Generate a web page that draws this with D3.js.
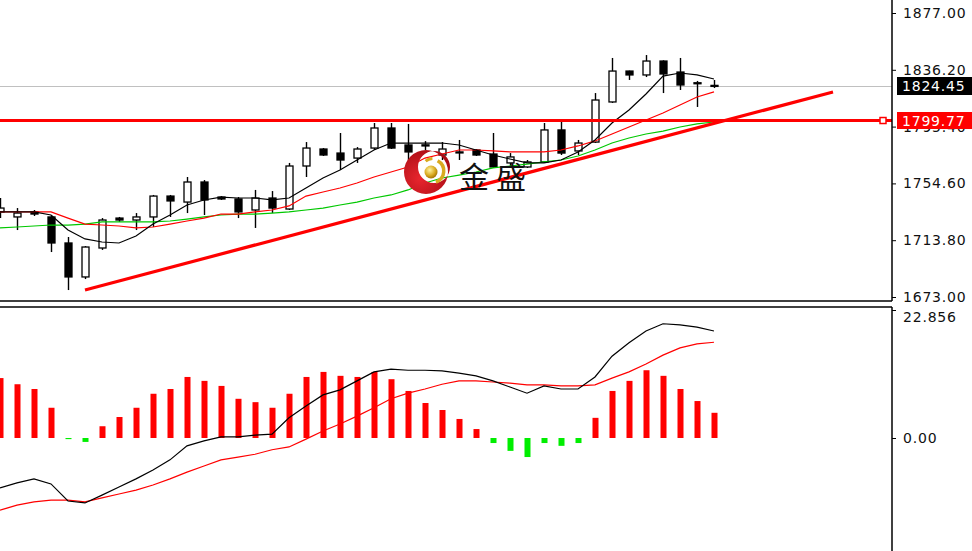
<!DOCTYPE html>
<html><head><meta charset="utf-8">
<script src="https://cdn.jsdelivr.net/npm/d3@7"></script>
<style>body{margin:0;background:#fff;overflow:hidden}svg{display:block}</style>
</head><body><svg id="c" width="972" height="551"></svg>
<script>
// ---------- data ----------
const opens  = [1734.1,1730.5,1734.1,1730.5,1711.8,1687.4,1708.2,1729.7,1728.3,1730.5,1745.5,1741.2,1755.6,1744.8,1743.4,1735.5,1744.1,1736.2,1767.1,1779.3,1776.4,1772.8,1780.0,1794.4,1782.2,1781.5,1775.0,1777.2,1778.6,1775.7,1769.3,1766.4,1770.0,1793.0,1777.9,1784.3,1813.1,1835.3,1832.5,1842.5,1834.6,1826.7,1825.0];
const highs  = [1744.1,1736.9,1735.5,1731.9,1716.1,1709.6,1729.7,1730.5,1733.3,1746.3,1746.3,1759.2,1757.0,1745.5,1744.8,1749.9,1749.1,1769.3,1784.3,1780.0,1790.8,1780.7,1798.0,1798.0,1797.3,1785.0,1784.3,1785.8,1779.3,1790.8,1776.4,1771.4,1798.0,1799.4,1785.8,1819.5,1844.7,1835.6,1846.8,1843.0,1844.7,1828.2,1828.9];
const lows   = [1729.7,1721.1,1731.2,1705.3,1678.0,1685.9,1706.8,1726.9,1721.1,1723.3,1730.5,1733.3,1731.9,1742.7,1729.7,1722.6,1733.3,1735.5,1759.2,1774.3,1764.2,1769.3,1778.6,1779.3,1771.4,1778.6,1771.4,1771.4,1774.3,1765.7,1765.7,1765.7,1769.3,1775.0,1775.0,1783.6,1812.4,1828.9,1831.0,1819.5,1821.7,1809.5,1823.1];
const closes = [1736.9,1733.3,1732.6,1711.8,1687.4,1708.9,1728.3,1728.3,1730.5,1745.5,1742.0,1755.6,1742.7,1743.4,1734.1,1744.1,1736.9,1767.1,1780.0,1775.0,1771.4,1779.3,1794.4,1780.0,1777.2,1782.3,1779.3,1777.0,1775.0,1766.4,1773.6,1770.0,1793.0,1776.4,1783.6,1814.5,1835.3,1832.5,1842.5,1833.2,1825.3,1826.9,1824.45];
const maFast = [1734.1,1734.1,1734.1,1731.9,1721.1,1714.7,1712.5,1711.8,1716.8,1725.4,1731.9,1739.1,1742.7,1744.8,1744.1,1744.1,1742.7,1744.1,1751.3,1758.5,1764.2,1771.4,1778.6,1783.6,1783.6,1783.6,1783.6,1782.2,1778.6,1775.0,1772.1,1769.3,1769.3,1771.4,1777.2,1785.8,1798.0,1807.3,1818.8,1831.7,1833.9,1832.5,1829.6];
const maMid  = [1734.1,1734.1,1734.1,1734.1,1729.7,1725.4,1724.7,1724.0,1722.6,1723.3,1725.4,1727.6,1729.7,1732.6,1732.6,1734.1,1735.5,1738.4,1745.5,1748.4,1751.3,1754.9,1759.2,1762.8,1766.4,1772.8,1775.7,1778.6,1778.6,1777.9,1777.2,1777.2,1777.2,1778.6,1781.5,1785.1,1790.1,1795.1,1800.1,1805.2,1810.9,1816.7,1820.3];
const maSlow = [1722.6,1723.3,1724.0,1724.7,1724.7,1725.4,1726.9,1726.9,1726.9,1726.9,1727.6,1729.0,1730.5,1731.9,1732.6,1732.6,1733.3,1734.1,1735.5,1736.9,1739.1,1741.2,1744.1,1746.3,1749.9,1754.9,1758.5,1760.6,1762.8,1765.7,1767.1,1768.5,1770.0,1771.4,1774.3,1778.6,1783.6,1787.2,1790.1,1792.2,1795.1,1797.3,1798.7];
const macdHist = [10.7,9.6,8.75,5.4,-0.2,-0.7,2.1,3.75,5.4,7.9,8.75,10.9,10.2,9.3,7.0,6.4,5.4,7.9,10.9,11.8,11.1,10.9,11.8,10.5,8.4,6.25,5.0,3.4,1.6,-0.9,-2.3,-3.4,-0.9,-1.4,-0.9,3.6,8.4,10.2,12.1,11.1,8.75,6.6,4.5];
const macdMain = [-8.9,-8.0,-7.3,-8.2,-11.25,-11.6,-10.2,-8.75,-7.3,-5.7,-3.9,-1.4,-0.5,0.2,0.2,0.5,0.7,3.6,5.7,7.7,8.6,10.2,11.8,12.3,12.1,12.1,12.0,11.6,11.1,10.2,9.1,8.0,9.3,8.75,8.75,10.9,14.6,17.0,19.1,20.4,20.2,19.8,19.1];
const macdSignal = [-12.9,-12.0,-11.4,-11.1,-11.1,-11.4,-10.7,-10.0,-9.3,-8.4,-7.3,-6.1,-5.0,-3.9,-3.4,-2.9,-2.1,-1.6,-0.2,1.25,2.5,3.9,5.4,7.0,8.0,8.75,9.6,10.2,10.2,10.0,9.8,9.5,9.5,9.3,9.3,9.5,10.7,11.8,13.2,14.8,16.1,16.8,17.1];
const priceTicks = [1877.00,1836.20,1795.40,1754.60,1713.80,1673.00];
const macdTicks = [22.856, 0];
const lastPrice = 1824.45;
const levelPrice = 1799.77;
const trendIdx = [5, 49];
const trendPrice = [1678.0, 1820.3];
const logoText = "金盛";

// ---------- layout ----------
const svg = d3.select('#c');
svg.append('rect').attr('width',972).attr('height',551).attr('fill','#fff');
const axisX = 892;
const x = d3.scaleLinear().domain([0,49]).range([0,833]);
const y = d3.scaleLinear().domain([1673,1877]).range([297,13]);
const ym = d3.scaleLinear().domain([0,22.856]).range([438,310]);
const font = "'DejaVu Sans', Verdana, sans-serif";

const defs = svg.append('defs');
defs.append('clipPath').attr('id','cpMain').append('rect').attr('x',0).attr('y',0).attr('width',axisX).attr('height',300);
defs.append('clipPath').attr('id','cpSub').append('rect').attr('x',0).attr('y',308).attr('width',axisX).attr('height',243);
const grad = defs.append('radialGradient').attr('id','gold').attr('cx','40%').attr('cy','35%').attr('r','70%');
grad.append('stop').attr('offset','0%').attr('stop-color','#fff3a0');
grad.append('stop').attr('offset','60%').attr('stop-color','#d9aa20');
grad.append('stop').attr('offset','100%').attr('stop-color','#9a6a00');
const rg = defs.append('radialGradient').attr('id','redg').attr('cx','35%').attr('cy','65%').attr('r','75%');
rg.append('stop').attr('offset','0%').attr('stop-color','#e8262e');
rg.append('stop').attr('offset','100%').attr('stop-color','#a80c14');

const main = svg.append('g').attr('clip-path','url(#cpMain)');
const sub = svg.append('g').attr('clip-path','url(#cpSub)');
const idx = d3.range(closes.length);

// last price gray line
main.append('line').attr('x1',0).attr('x2',axisX).attr('y1',Math.round(y(lastPrice))+0.5).attr('y2',Math.round(y(lastPrice))+0.5)
  .attr('stroke','#c0c0c0').attr('stroke-width',1);

// candles
const cw = 7;
const cg = main.append('g');
idx.forEach(i=>{
  const cx = Math.round(x(i))+0.5;
  cg.append('line').attr('x1',cx).attr('x2',cx).attr('y1',y(highs[i])).attr('y2',y(lows[i])).attr('stroke','#000').attr('stroke-width',1.4);
  const top = y(Math.max(opens[i],closes[i])), bot = y(Math.min(opens[i],closes[i]));
  const bull = closes[i] >= opens[i];
  const h = Math.max(bot-top, 1);
  cg.append('rect').attr('x',cx-cw/2).attr('y',top).attr('width',cw).attr('height',h)
    .attr('fill', bull ? '#fff' : '#000').attr('stroke','#000').attr('stroke-width',1.3);
});

// moving averages
const lineP = arr => d3.line().x((d,i)=>x(i)).y(d=>y(d))(arr);
main.append('path').attr('d',lineP(maSlow)).attr('fill','none').attr('stroke','#00c800').attr('stroke-width',1.2);
main.append('path').attr('d',lineP(maMid)).attr('fill','none').attr('stroke','#ff0000').attr('stroke-width',1.2);
main.append('path').attr('d',lineP(maFast)).attr('fill','none').attr('stroke','#000').attr('stroke-width',1.2);

// horizontal level
main.append('line').attr('x1',0).attr('x2',axisX).attr('y1',y(levelPrice)).attr('y2',y(levelPrice)).attr('stroke','#ff0000').attr('stroke-width',3);
main.append('rect').attr('x',880).attr('y',y(levelPrice)-3).attr('width',6).attr('height',6).attr('fill','#fff').attr('stroke','#ff0000').attr('stroke-width',1.5);

// trend line
main.append('line').attr('x1',x(trendIdx[0])).attr('y1',y(trendPrice[0])).attr('x2',x(trendIdx[1])).attr('y2',y(trendPrice[1]))
  .attr('stroke','#ff0000').attr('stroke-width',3.2);

// logo
const logo = svg.append('g');
const circ = (cx,cy,r) => `M${cx+r},${cy}A${r},${r} 0 1 0 ${cx-r},${cy}A${r},${r} 0 1 0 ${cx+r},${cy}Z`;
logo.append('path').attr('fill-rule','evenodd').attr('fill','url(#redg)')
  .attr('d', circ(426,172,22) + circ(434,167,16));
logo.append('circle').attr('cx',431).attr('cy',172).attr('r',6.5).attr('fill','url(#gold)');
logo.append('path').attr('d', d3.arc()({innerRadius:10,outerRadius:13.5,startAngle:0.5,endAngle:2.8}))
  .attr('transform','translate(432,171)').attr('fill','#d9aa20');
logo.append('path').attr('d', d3.arc()({innerRadius:10,outerRadius:13,startAngle:-0.7,endAngle:-0.05}))
  .attr('transform','translate(433,170)').attr('fill','#d9aa20');
logo.append('text').attr('x',459).attr('y',188).attr('font-family',"'Noto Sans CJK SC', sans-serif").attr('font-size',30)
  .attr('letter-spacing',7).attr('fill','#111').text(logoText);

// MACD
const bw = 6;
sub.selectAll('rect.h').data(macdHist).enter().append('rect')
  .attr('x',(d,i)=>Math.round(x(i))-bw/2+0.5).attr('width',bw)
  .attr('y',d=> d>=0 ? ym(d) : ym(0)).attr('height',d=>Math.abs(ym(d)-ym(0)))
  .attr('fill',d=> d>=0 ? '#ff0000' : '#00ee00');
const lineM = arr => d3.line().x((d,i)=>x(i)).y(d=>ym(d))(arr);
sub.append('path').attr('d',lineM(macdSignal)).attr('fill','none').attr('stroke','#ff0000').attr('stroke-width',1.2);
sub.append('path').attr('d',lineM(macdMain)).attr('fill','none').attr('stroke','#000').attr('stroke-width',1.2);

// frames
svg.append('line').attr('x1',0).attr('x2',axisX).attr('y1',301).attr('y2',301).attr('stroke','#000').attr('stroke-width',1.5);
svg.append('line').attr('x1',0).attr('x2',axisX).attr('y1',307).attr('y2',307).attr('stroke','#000').attr('stroke-width',1.5);
svg.append('line').attr('x1',axisX).attr('x2',axisX).attr('y1',0).attr('y2',301).attr('stroke','#000').attr('stroke-width',1.5);
svg.append('line').attr('x1',axisX).attr('x2',axisX).attr('y1',307).attr('y2',551).attr('stroke','#000').attr('stroke-width',1.5);

// axes
const ax = svg.append('g').attr('transform',`translate(${axisX},0)`)
  .call(d3.axisRight(y).tickValues(priceTicks).tickSize(4).tickPadding(7).tickFormat(d3.format('.2f')));
const am = svg.append('g').attr('transform',`translate(${axisX},0)`)
  .call(d3.axisRight(ym).tickValues(macdTicks).tickSize(4).tickPadding(7).tickFormat(d=> d===0 ? '0.00' : String(d)));
[ax,am].forEach(a=>{
  a.select('.domain').remove();
  a.selectAll('line').attr('stroke','#000');
  a.selectAll('text').attr('font-family',font).attr('font-size',14).attr('letter-spacing',0.8).attr('fill','#111');
});
am.selectAll('text').filter(d=>d!==0).attr('dy','0.85em');

// price labels
function tag(price, bg, yy, h){
  svg.append('rect').attr('x',897).attr('y',yy).attr('width',75).attr('height',h).attr('fill',bg);
  svg.append('text').attr('x',902).attr('y',yy+h/2).attr('dy','0.36em').attr('font-family',font).attr('font-size',14)
    .attr('letter-spacing',0.8).attr('fill','#fff').text(d3.format('.2f')(price));
}
tag(levelPrice,'#ff0000',Math.round(y(levelPrice))-9,17);
tag(lastPrice,'#000',Math.round(y(lastPrice))-9,18);
</script></body></html>
